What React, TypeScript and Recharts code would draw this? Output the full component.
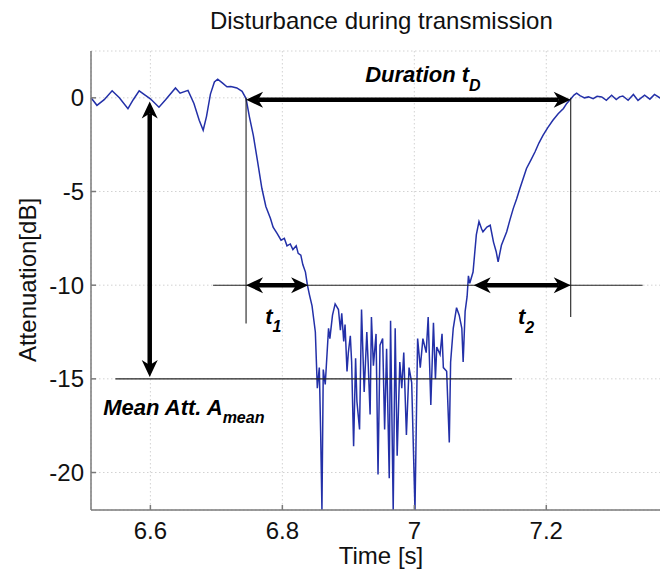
import React from 'react';
import {
  LineChart, Line, XAxis, YAxis, CartesianGrid, ReferenceLine, ReferenceDot,
} from 'recharts';

const FONT = '"Liberation Sans", Arial, Helvetica, sans-serif';

const timeS: number[] = [
  6.510, 6.519, 6.530, 6.542, 6.553, 6.566, 6.574, 6.583, 6.592, 6.600,
  6.613, 6.623, 6.638, 6.645, 6.657, 6.666, 6.674, 6.680, 6.685, 6.691,
  6.697, 6.702, 6.709, 6.716, 6.722, 6.731, 6.739, 6.745, 6.750, 6.756,
  6.762, 6.769, 6.775, 6.782, 6.786, 6.792, 6.798, 6.803, 6.807, 6.812,
  6.816, 6.821, 6.824, 6.828, 6.831, 6.835, 6.838, 6.841, 6.845, 6.850,
  6.853, 6.856, 6.858, 6.860, 6.862, 6.865, 6.870, 6.872, 6.876, 6.880,
  6.885, 6.888, 6.890, 6.893, 6.895, 6.898, 6.900, 6.903, 6.905, 6.908,
  6.911, 6.913, 6.917, 6.920, 6.924, 6.928, 6.930, 6.933, 6.935, 6.938,
  6.942, 6.945, 6.948, 6.952, 6.955, 6.958, 6.962, 6.964, 6.968, 6.971,
  6.974, 6.978, 6.981, 6.984, 6.988, 6.992, 6.996, 7.001, 7.005, 7.009,
  7.013, 7.018, 7.021, 7.025, 7.029, 7.032, 7.034, 7.039, 7.042, 7.044,
  7.049, 7.053, 7.055, 7.059, 7.064, 7.068, 7.072, 7.074, 7.077, 7.080,
  7.082, 7.084, 7.089, 7.094, 7.098, 7.102, 7.104, 7.110, 7.115, 7.120,
  7.124, 7.127, 7.132, 7.140, 7.145, 7.150, 7.155, 7.160, 7.165, 7.170,
  7.177, 7.183, 7.189, 7.195, 7.202, 7.210, 7.218, 7.226, 7.231, 7.236,
  7.242, 7.246, 7.251, 7.258, 7.264, 7.271, 7.277, 7.284, 7.291, 7.299,
  7.306, 7.311, 7.316, 7.324, 7.332, 7.339, 7.349, 7.357, 7.364, 7.372,
  7.380, 7.389,
];

const attenuationDb: number[] = [
  0.0, -0.4, -0.1, 0.38, 0.0, -0.58, -0.1, 0.37, 0.15, -0.05,
  -0.5, -0.1, 0.53, 0.25, 0.4, -0.3, -1.2, -1.73, -1.0, 0.2,
  0.85, 1.0, 0.8, 0.59, 0.6, 0.53, 0.35, -0.04, -1.0, -2.0,
  -3.3, -4.84, -5.8, -6.44, -6.9, -7.24, -7.6, -7.5, -7.9, -7.8,
  -8.1, -7.9, -8.3, -8.4, -8.9, -9.3, -10.0, -10.5, -11.1, -12.5,
  -15.5, -14.4, -17.8, -22, -14.5, -15.3, -12.3, -12.85, -11.6, -11.0,
  -11.3, -12.4, -11.5, -13.0, -12.1, -14.6, -13.6, -12.7, -14.1, -18.6,
  -13.9, -16.2, -17.7, -11.3, -15.7, -12.5, -14.1, -16.9, -11.7, -14.3,
  -12.6, -20.1, -13.2, -12.85, -17.7, -13.4, -20.3, -11.9, -22, -12.3,
  -19.1, -14.1, -15.5, -13.6, -18.0, -14.4, -15.2, -22, -12.85, -14.4,
  -12.85, -13.6, -11.7, -16.4, -12.0, -15.0, -13.3, -13.7, -12.6, -14.4,
  -14.6, -18.4, -14.1, -12.3, -11.2, -11.6, -12.3, -14.1, -11.4, -10.6,
  -9.5, -9.9, -9.3, -7.3, -6.6, -7.0, -7.15, -6.9, -6.8, -7.7,
  -8.2, -8.75, -7.87, -7.15, -6.5, -5.9, -5.4, -4.84, -4.3, -3.77,
  -3.3, -2.88, -2.4, -2.0, -1.6, -1.2, -0.85, -0.57, -0.3, -0.1,
  0.15, 0.25, 0.12, 0.0, 0.05, -0.04, 0.08, 0.05, -0.13, 0.14,
  -0.09, 0.05, 0.1, -0.13, 0.18, -0.14, 0.14, -0.07, 0.18, 0.0,
  0.08, -0.05,
];

const xTicks: number[] = [6.6, 6.8, 7, 7.2];
const yTicks: number[] = [-20, -15, -10, -5, 0];
const xDomain: [number, number] = [6.51, 7.389];
const yDomain: [number, number] = [-22, 2.5];

const titleText = 'Disturbance during transmission';
const xLabelText = 'Time [s]';
const yLabelText = 'Attenuation[dB]';

// Annotation geometry in data units
const tStart = 6.745;
const tEnd = 7.237;
const tCross1 = 6.839;
const tCross2 = 7.09;
const levelMean = -15;
const levelHalf = -10;

const data = timeS.map((t, i) => ({ t, v: attenuationDb[i] }));

const AXIS_GRAY = '#7a7a7a';

function ArrowShape(props: any) {
  const { x1, y1, x2, y2 } = props;
  const dx = x2 - x1;
  const dy = y2 - y1;
  const len = Math.hypot(dx, dy) || 1;
  const ux = dx / len;
  const uy = dy / len;
  const px = -uy;
  const py = ux;
  const L = 17;
  const W = 8;
  const N = 12;
  const head = (tx: number, ty: number, dirx: number, diry: number) => {
    const bx = tx - dirx * L;
    const by = ty - diry * L;
    const nx = tx - dirx * N;
    const ny = ty - diry * N;
    return `${tx},${ty} ${bx + px * W},${by + py * W} ${nx},${ny} ${bx - px * W},${by - py * W}`;
  };
  return (
    <g>
      <line
        x1={x1 + ux * N}
        y1={y1 + uy * N}
        x2={x2 - ux * N}
        y2={y2 - uy * N}
        stroke="#000"
        strokeWidth={4.5}
      />
      <polygon points={head(x1, y1, -ux, -uy)} fill="#000" />
      <polygon points={head(x2, y2, ux, uy)} fill="#000" />
    </g>
  );
}

function ThinLine(props: any) {
  const { x1, y1, x2, y2 } = props;
  return <line x1={x1} y1={y1} x2={x2} y2={y2} stroke="#222" strokeWidth={1.1} />;
}

const subLabel = (main: string, sub: string, subDy: number) => (p: any) => (
  <text
    x={p.cx}
    y={p.cy}
    fontFamily={FONT}
    fontWeight="bold"
    fontStyle="italic"
    fontSize={22}
    fill="#000"
  >
    {main}
    <tspan dy={subDy} fontSize={16}>{sub}</tspan>
  </text>
);

const titleShape = (p: any) => (
  <text
    x={p.cx}
    y={p.cy}
    textAnchor="middle"
    fontFamily={FONT}
    fontSize={24}
    fill="#111"
  >
    {titleText}
  </text>
);

export default function App() {
  return (
    <div
      style={{
        position: 'fixed',
        left: 0,
        top: 0,
        width: 660,
        height: 569,
        overflow: 'hidden',
        background: '#fff',
      }}
    >
      <LineChart
        width={672}
        height={569}
        data={data}
        margin={{ top: 51, right: 1, bottom: 0, left: 0 }}
      >
        <CartesianGrid stroke="#d2d2d2" strokeDasharray="1.5 2.5" />
        <XAxis
          xAxisId="top"
          orientation="top"
          type="number"
          dataKey="t"
          domain={xDomain}
          ticks={xTicks}
          height={0}
          tickSize={-5}
          tick={false}
          stroke={AXIS_GRAY}
          strokeWidth={1.5}
        />
        <XAxis
          type="number"
          dataKey="t"
          domain={xDomain}
          ticks={xTicks}
          height={59}
          tickSize={-5}
          tickMargin={17}
          stroke={AXIS_GRAY}
          strokeWidth={1.5}
          tick={{ fill: '#111', fontSize: 24, fontFamily: FONT }}
          tickFormatter={(v: number) => String(v)}
          label={{
            content: (p: any) => {
              const vb = p.viewBox || {};
              return (
                <text
                  x={(vb.x ?? 91) + (vb.width ?? 580) / 2}
                  y={564}
                  textAnchor="middle"
                  fontFamily={FONT}
                  fontSize={24}
                  fill="#111"
                >
                  {xLabelText}
                </text>
              );
            },
          }}
        />
        <YAxis
          type="number"
          domain={yDomain}
          ticks={yTicks}
          width={91}
          allowDataOverflow
          tickSize={-5}
          tickMargin={12}
          stroke={AXIS_GRAY}
          strokeWidth={1.5}
          tick={{ fill: '#111', fontSize: 24, fontFamily: FONT }}
          label={{
            content: () => (
              <text
                x={36}
                y={280}
                transform="rotate(-90 36 280)"
                textAnchor="middle"
                fontFamily={FONT}
                fontSize={24}
                fill="#111"
              >
                {yLabelText}
              </text>
            ),
          }}
        />
        <Line
          type="linear"
          dataKey="v"
          stroke="#2330a8"
          strokeWidth={1.5}
          dot={false}
          isAnimationActive={false}
        />
        {/* thin guide lines */}
        <ReferenceLine segment={[{ x: tStart, y: 0 }, { x: tStart, y: -12.05 }]} shape={ThinLine} />
        <ReferenceLine segment={[{ x: tEnd, y: 0 }, { x: tEnd, y: -11.7 }]} shape={ThinLine} />
        <ReferenceLine segment={[{ x: 6.695, y: levelHalf }, { x: 7.346, y: levelHalf }]} shape={ThinLine} />
        <ReferenceLine segment={[{ x: 6.547, y: levelMean }, { x: 7.148, y: levelMean }]} shape={ThinLine} />
        {/* arrows */}
        <ReferenceLine segment={[{ x: tStart, y: -0.1 }, { x: tEnd, y: -0.1 }]} shape={ArrowShape} />
        <ReferenceLine segment={[{ x: tStart, y: levelHalf }, { x: tCross1, y: levelHalf }]} shape={ArrowShape} />
        <ReferenceLine segment={[{ x: tCross2, y: levelHalf }, { x: tEnd, y: levelHalf }]} shape={ArrowShape} />
        <ReferenceLine segment={[{ x: 6.599, y: -0.2 }, { x: 6.599, y: -14.9 }]} shape={ArrowShape} />
        {/* labels */}
        <ReferenceDot x={6.9256} y={0.87} r={0} shape={subLabel('Duration t', 'D', 9)} />
        <ReferenceDot x={6.774} y={-12.05} r={0} shape={subLabel('t', '1', 8)} />
        <ReferenceDot x={7.157} y={-12.05} r={0} shape={subLabel('t', '2', 9)} />
        <ReferenceDot x={6.5286} y={-16.95} r={0} shape={subLabel('Mean Att. A', 'mean', 8)} />
        <ReferenceDot x={6.95} y={3.65} r={0} ifOverflow="visible" shape={titleShape} />
      </LineChart>
    </div>
  );
}
